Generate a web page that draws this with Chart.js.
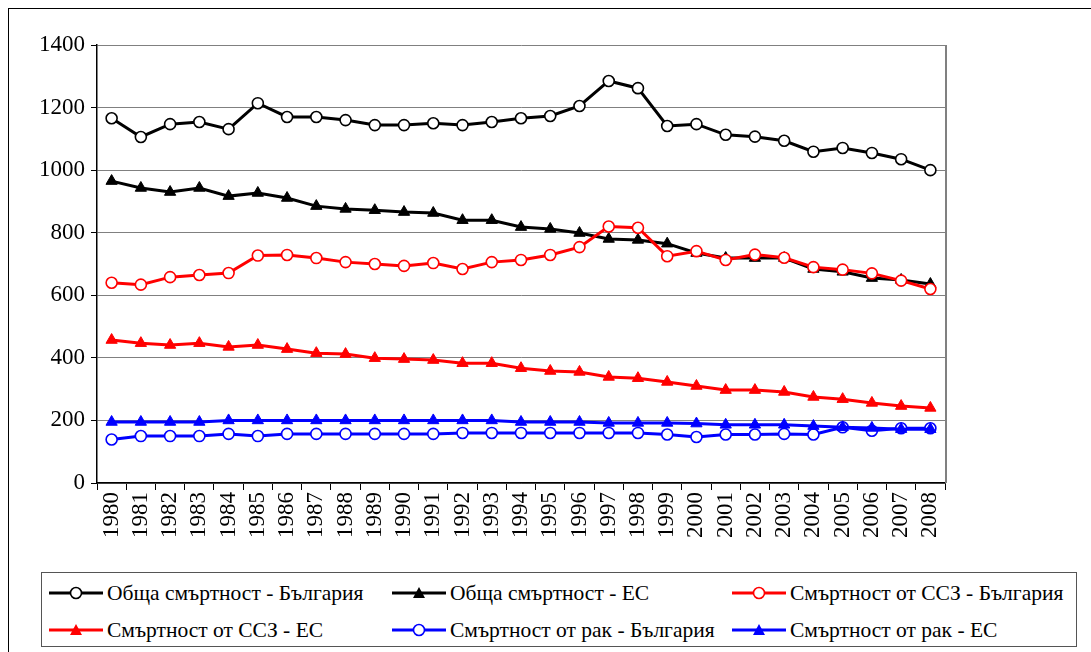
<!DOCTYPE html>
<html>
<head>
<meta charset="utf-8">
<script src="https://cdn.jsdelivr.net/npm/chart.js@4"></script>
<style>
  html, body { margin: 0; padding: 0; background: #fff; }
  #wrap { position: relative; width: 1091px; height: 652px; overflow: hidden; background: #fff; }
  #frame { position: absolute; left: 8px; top: 8px; width: 1200px; height: 800px; border: 1px solid #000; }
  #c { position: absolute; left: 0; top: 0; }
  #legend { position: absolute; left: 41px; top: 572px; width: 1034px; height: 73px; border: 1px solid #555; background: #fff;
            font-family: "Liberation Serif", "Times New Roman", serif; font-size: 21.5px; color: #000; }
  .item { position: absolute; display: flex; align-items: center; white-space: nowrap; height: 24px; }
  .item svg { margin-right: 4px; }
</style>
</head>
<body>
<div id="wrap">
  <div id="frame"></div>
  <canvas id="c" width="1091" height="652"></canvas>
  <div id="legend"></div>
</div>
<script>
const years = ['1980','1981','1982','1983','1984','1985','1986','1987','1988','1989','1990','1991','1992','1993','1994','1995','1996','1997','1998','1999','2000','2001','2002','2003','2004','2005','2006','2007','2008'];

const totalBG = [1166,1106,1147,1154,1131,1214,1170,1170,1160,1144,1144,1150,1144,1154,1166,1173,1205,1285,1262,1141,1147,1113,1107,1094,1059,1071,1055,1035,1000];
const totalEU = [965,943,930,943,917,927,911,885,876,872,866,863,840,840,818,812,799,780,777,765,735,719,719,719,684,675,655,649,636];
const cvdBG   = [640,634,658,665,671,727,729,719,706,700,694,703,684,706,713,729,754,820,816,725,741,713,730,720,690,682,670,647,620];
const cvdEU   = [457,447,441,447,435,441,428,415,412,399,396,393,383,383,367,358,355,339,335,323,310,297,297,291,275,268,256,246,240];
const cancerBG = [139,150,150,150,157,150,157,157,157,157,157,157,160,160,160,160,160,160,160,155,147,155,155,157,155,178,167,175,175];
const cancerEU = [195,195,195,195,200,200,200,200,200,200,200,200,200,200,195,195,195,192,192,192,190,186,186,186,182,178,176,172,172];

const seriesNames = ['Обща смъртност - България','Обща смъртност - ЕС','Смъртност от ССЗ - България','Смъртност от ССЗ - ЕС','Смъртност от рак - България','Смъртност от рак - ЕС'];
const seriesColors = ['#000000','#000000','#ff0000','#ff0000','#0000ff','#0000ff'];
const seriesMarkers = ['circle','triangle','circle','triangle','circle','triangle'];
const seriesData = [totalBG, totalEU, cvdBG, cvdEU, cancerBG, cancerEU];
const yTicks = [0,200,400,600,800,1000,1200,1400];

const datasets = seriesData.map((d, i) => {
  const circ = seriesMarkers[i] === 'circle';
  return {
    label: seriesNames[i],
    data: d,
    borderColor: seriesColors[i],
    borderWidth: 3,
    pointStyle: seriesMarkers[i],
    pointRadius: circ ? 5.5 : 6.5,
    pointBorderWidth: circ ? 1.6 : 1,
    pointBackgroundColor: circ ? '#ffffff' : seriesColors[i],
    pointBorderColor: seriesColors[i],
    tension: 0,
    order: 5 - i
  };
});

const plotBorder = {
  id: 'plotBorder',
  afterDraw(chart) {
    const a = chart.chartArea, ctx = chart.ctx;
    ctx.save();
    ctx.strokeStyle = '#808080';
    ctx.lineWidth = 2;
    ctx.beginPath();
    ctx.moveTo(a.right + 1, a.top);
    ctx.lineTo(a.right + 1, a.bottom);
    ctx.stroke();
    ctx.restore();
  }
};

new Chart(document.getElementById('c'), {
  type: 'line',
  data: { labels: years, datasets },
  options: {
    responsive: false,
    animation: false,
    events: [],
    layout: { padding: { left: 0, top: 45, right: 146, bottom: 89 } },
    plugins: { legend: { display: false }, tooltip: { enabled: false } },
    scales: {
      x: {
        offset: true,
        grid: { offset: true, drawOnChartArea: false, drawTicks: true, tickLength: 7, color: '#000', lineWidth: 1 },
        border: { color: '#000', width: 1.5 },
        ticks: { color: '#000', font: { family: 'Liberation Serif', size: 23 }, maxRotation: 90, minRotation: 90, padding: 2, autoSkip: false },
        afterFit(s) { s.height = 80; }
      },
      y: {
        min: 0, max: 1400,
        afterBuildTicks(s) { s.ticks = yTicks.map(v => ({ value: v })); },
        grid: { color: '#808080', lineWidth: 1, tickLength: 6, tickColor: '#000' },
        border: { color: '#000', width: 1.5 },
        ticks: { color: '#000', font: { family: 'Liberation Serif', size: 23 }, padding: 6, callback: v => String(v) },
        afterFit(s) { s.width = 97; }
      }
    }
  },
  plugins: [plotBorder]
});

// legend (HTML)
const legendPos = [[7, 8], [350, 8], [690, 8], [7, 45], [350, 45], [690, 45]];
const legend = document.getElementById('legend');
seriesNames.forEach((name, i) => {
  const el = document.createElement('div');
  el.className = 'item';
  el.style.left = legendPos[i][0] + 'px';
  el.style.top = legendPos[i][1] + 'px';
  const c = seriesColors[i];
  const marker = seriesMarkers[i] === 'circle'
    ? `<circle cx="27" cy="8" r="5.5" fill="#fff" stroke="${c}" stroke-width="1.6"/>`
    : `<polygon points="27,2 33,13 21,13" fill="${c}"/>`;
  el.innerHTML = `<svg width="54" height="16"><line x1="0" y1="8" x2="54" y2="8" stroke="${c}" stroke-width="3"/>${marker}</svg><span>${name}</span>`;
  legend.appendChild(el);
});
</script>
</body>
</html>
